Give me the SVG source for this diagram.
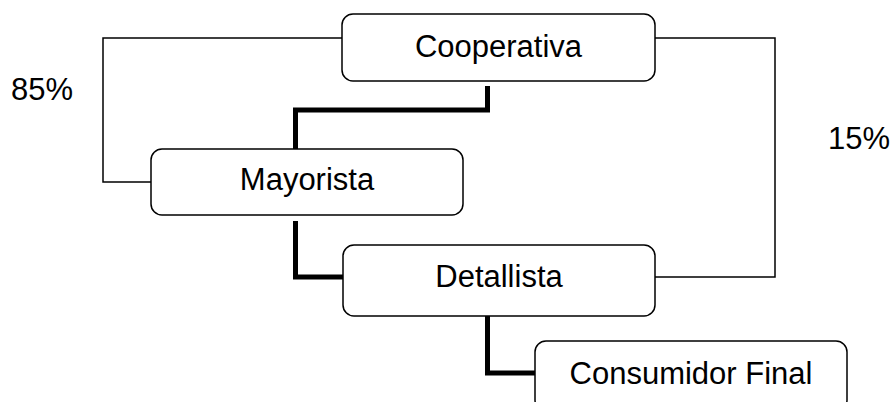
<svg xmlns="http://www.w3.org/2000/svg" width="893" height="402" viewBox="0 0 893 402">
<style>
.box{fill:#fff;stroke:#000;stroke-width:1.5}
.t{font-family:"Liberation Sans",Arial,sans-serif;font-size:31px;fill:#000;text-anchor:middle}
.thin{fill:none;stroke:#000;stroke-width:1.5}
.thick{fill:none;stroke:#000;stroke-width:5}
</style>
<rect width="893" height="402" fill="#fff"/>
<g id="connectors">
<polyline class="thin" points="342,38 103,38 103,182 151,182"/>
<polyline class="thin" points="655,38 775,38 775,277 655,277"/>
<polyline class="thick" points="487.5,86 487.5,110 295.5,110 295.5,149"/>
<polyline class="thick" points="295.5,221 295.5,277 343,277"/>
<polyline class="thick" points="487.5,316 487.5,373 535,373"/>
</g>
<g id="cooperativa">
<rect class="box" x="342" y="14" width="313" height="67" rx="11"/>
<text class="t" x="498.5" y="57">Cooperativa</text>
</g>
<g id="mayorista">
<rect class="box" x="151" y="149" width="312" height="66" rx="11"/>
<text class="t" x="307" y="190">Mayorista</text>
</g>
<g id="detallista">
<rect class="box" x="343" y="245" width="312" height="71" rx="11"/>
<text class="t" x="499" y="287">Detallista</text>
</g>
<g id="consumidor">
<rect class="box" x="535" y="341" width="312" height="70" rx="11"/>
<text class="t" x="691" y="384">Consumidor Final</text>
</g>
<g id="labels">
<text class="t" x="42" y="100">85%</text>
<text class="t" x="859" y="149">15%</text>
</g>
</svg>
